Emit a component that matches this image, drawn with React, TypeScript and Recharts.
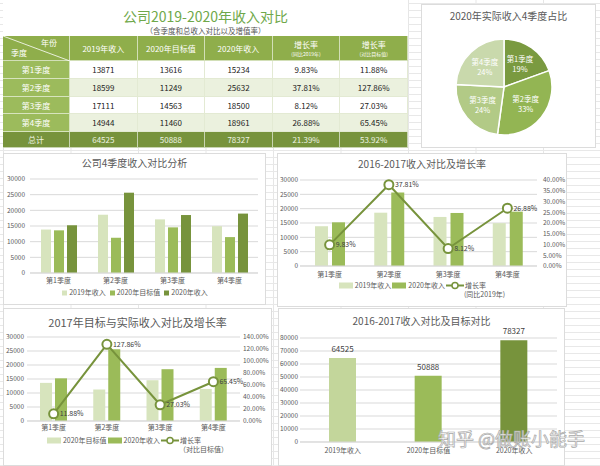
import React from "react"
import {
  BarChart,
  Bar,
  ComposedChart,
  Line,
  XAxis,
  YAxis,
  CartesianGrid,
  Legend,
  LabelList,
  PieChart,
  Pie,
  Cell,
} from "recharts"

const quarters = ["第1季度", "第2季度", "第3季度", "第4季度"]
const revenue2019 = [13871, 18599, 17111, 14944]
const target2020 = [13616, 11249, 14563, 11460]
const revenue2020 = [15234, 25632, 18500, 18961]
const growthYoY = [9.83, 37.81, 8.12, 26.88]
const growthVsTarget = [11.88, 127.86, 27.03, 65.45]

const totalLabels = ["2019年收入", "2020年目标值", "2020年收入"]
const totals = [64525, 50888, 78327]
const totalGrowth = [21.39, 53.92]

const revenueTicks = [0, 5000, 10000, 15000, 20000, 25000, 30000]
const yoyTicks = [0, 5, 10, 15, 20, 25, 30, 35, 40]
const vsTargetTicks = [0, 20, 40, 60, 80, 100, 120, 140]
const totalTicks = [0, 10000, 20000, 30000, 40000, 50000, 60000, 70000, 80000]

const FONT = '"Noto Sans CJK SC", "Noto Sans", sans-serif'
const LIGHT = "#D7E4BD"
const MID = "#9BBB59"
const DARK = "#77933C"
const AXIS_TEXT = "#595959"
const GRID = "#d9d9d9"
const pieColors = ["#7A9A40", "#93B553", "#B2CA86", "#C9D9AC"]
const totalColors = ["#C3D69B", MID, DARK]

const quarterRows = quarters.map((q, i) => ({
  quarter: q,
  r2019: revenue2019[i],
  t2020: target2020[i],
  r2020: revenue2020[i],
  yoy: growthYoY[i],
  vsTarget: growthVsTarget[i],
}))

const totalRows = totalLabels.map((name, i) => ({ name, value: totals[i] }))
const pieRows = quarters.map((q, i) => ({ name: q, value: revenue2020[i] }))

const pct = (v: any) => Number(v).toFixed(2) + "%"

type LegendItem = { label: string; sub?: string; color: string; kind: "square" | "rect" | "line" }

function LegendRow({ items, gap = 6 }: { items: LegendItem[]; gap?: number }) {
  return (
    <div
      style={{
        display: "flex",
        justifyContent: "center",
        alignItems: "flex-start",
        gap,
        fontSize: 7,
        lineHeight: "9px",
        color: AXIS_TEXT,
        fontFamily: FONT,
      }}
    >
      {items.map((it) => (
        <div key={it.label} style={{ display: "flex", alignItems: "flex-start" }}>
          {it.kind === "square" && (
            <svg width={8} height={9}>
              <rect x={1} y={2.5} width={5} height={5} fill={it.color} />
            </svg>
          )}
          {it.kind === "rect" && (
            <svg width={16} height={9}>
              <rect x={0} y={1.5} width={14} height={6} fill={it.color} />
            </svg>
          )}
          {it.kind === "line" && (
            <svg width={19} height={9}>
              <line x1={0} y1={4.5} x2={18} y2={4.5} stroke={it.color} strokeWidth={2} />
              <circle cx={9} cy={4.5} r={3} fill="#fff" stroke={it.color} strokeWidth={1.5} />
            </svg>
          )}
          <div>
            <div>{it.label}</div>
            {it.sub && <div style={{ marginLeft: -1 }}>{it.sub}</div>}
          </div>
        </div>
      ))}
    </div>
  )
}

function Panel({
  x, y, w, h, title, titleTop, titleSize = 10, children,
}: {
  x: number; y: number; w: number; h: number; title: string; titleTop: number; titleSize?: number
  children: React.ReactNode
}) {
  return (
    <div
      style={{
        position: "absolute",
        left: x,
        top: y,
        width: w,
        height: h,
        background: "#fff",
        outline: "1px solid #dcdcdc",
        outlineOffset: -1,
      }}
    >
      <div
        style={{
          position: "absolute",
          left: 0,
          top: titleTop,
          width: w,
          textAlign: "center",
          fontSize: titleSize,
          lineHeight: "14px",
          color: AXIS_TEXT,
          fontFamily: FONT,
        }}
      >
        {title}
      </div>
      <div style={{ position: "absolute", left: 0, top: 0 }}>{children}</div>
    </div>
  )
}

function SummaryTable() {
  const widths = [67, 67.6, 67.6, 67.6, 67.6, 67.6]
  const heights = [18, 18, 17, 18]
  const headGreen = "#8FAE4B"
  const sideGreen = "#9CBB5C"
  const cell = (w: number, h: number, bg: string, color: string, content: React.ReactNode, key: string) => (
    <div
      key={key}
      style={{
        width: w,
        height: h,
        background: bg,
        color,
        display: "flex",
        flexDirection: "column",
        alignItems: "center",
        justifyContent: "center",
        boxSizing: "border-box",
        borderRight: "1px solid rgba(255,255,255,0.6)",
        borderBottom: "1px solid rgba(255,255,255,0.6)",
      }}
    >
      {content}
    </div>
  )
  const rows = quarters.map((q, i) => [
    q,
    String(revenue2019[i]),
    String(target2020[i]),
    String(revenue2020[i]),
    pct(growthYoY[i]),
    pct(growthVsTarget[i]),
  ])
  return (
    <div style={{ position: "absolute", left: 3, top: 0, width: 405, fontFamily: FONT }}>
      <div style={{ height: 36, position: "relative", background: "#fff" }}>
        <div
          style={{
            position: "absolute", top: 8, width: "100%", textAlign: "center",
            fontSize: 14, lineHeight: "16px", color: "#6FA84A",
          }}
        >
          公司2019-2020年收入对比
        </div>
        <div
          style={{
            position: "absolute", top: 26, width: "100%", textAlign: "center",
            fontSize: 7.5, lineHeight: "9px", color: "#555",
          }}
        >
          （含季度和总收入对比以及增值率）
        </div>
      </div>
      <div style={{ display: "flex", fontSize: 8 }}>
        <div style={{ width: widths[0], height: 25, background: headGreen, position: "relative", color: "#fff", boxSizing: "border-box", borderRight: "1px solid rgba(255,255,255,0.6)", borderBottom: "1px solid rgba(255,255,255,0.6)" }}>
          <svg width={67} height={25} style={{ position: "absolute", left: 0, top: 0 }}>
            <line x1={0} y1={0} x2={67} y2={25} stroke="#fff" strokeWidth={0.8} />
          </svg>
          <div style={{ position: "absolute", right: 12, top: 1 }}>年份</div>
          <div style={{ position: "absolute", left: 8, bottom: 2 }}>季度</div>
        </div>
        {cell(widths[1], 25, headGreen, "#fff", "2019年收入", "h1")}
        {cell(widths[2], 25, headGreen, "#fff", "2020年目标值", "h2")}
        {cell(widths[3], 25, headGreen, "#fff", "2020年收入", "h3")}
        {cell(widths[4], 25, headGreen, "#fff", (
          <>
            <div style={{ lineHeight: "10px" }}>增长率</div>
            <div style={{ fontSize: 5, lineHeight: "7px" }}>(同比2019年)</div>
          </>
        ), "h4")}
        {cell(widths[5], 25, headGreen, "#fff", (
          <>
            <div style={{ lineHeight: "10px" }}>增长率</div>
            <div style={{ fontSize: 5, lineHeight: "7px" }}>(对比目标值)</div>
          </>
        ), "h5")}
      </div>
      {rows.map((r, ri) => (
        <div key={ri} style={{ display: "flex", fontSize: 8 }}>
          {r.map((v, ci) =>
            ci === 0
              ? cell(widths[ci], heights[ri], sideGreen, "#fff", v, `c${ri}-${ci}`)
              : (
                <div
                  key={`c${ri}-${ci}`}
                  style={{
                    width: widths[ci],
                    height: heights[ri],
                    background: ri % 2 === 1 ? "#EBF1DE" : "#fff",
                    color: "#222",
                    display: "flex",
                    alignItems: "center",
                    justifyContent: "center",
                    boxSizing: "border-box",
                    borderRight: "1px solid #e3ead3",
                    borderBottom: "1px solid #e3ead3",
                  }}
                >
                  {v}
                </div>
              )
          )}
        </div>
      ))}
      <div style={{ display: "flex", fontSize: 8 }}>
        {["总计", ...totals.map(String), ...totalGrowth.map(pct)].map((v, ci) =>
          cell(widths[ci], 16, "#77933C", "#EEF3E2", v, `t${ci}`)
        )}
      </div>
    </div>
  )
}

const RAD = Math.PI / 180

function pieLabel(props: any) {
  const { cx, cy, midAngle, outerRadius, percent, name } = props
  const r = outerRadius * 0.58
  const x = cx + r * Math.cos(-midAngle * RAD)
  const y = cy + r * Math.sin(-midAngle * RAD)
  return (
    <text x={x} y={y} textAnchor="middle" fill="#fff" fontSize={7.5} fontFamily={FONT}>
      <tspan x={x} dy={-2}>{name}</tspan>
      <tspan x={x} dy={10}>{Math.round(percent * 100)}%</tspan>
    </text>
  )
}

const tickStyle = { fontSize: 6.5, fill: AXIS_TEXT, fontFamily: FONT }
const catTick = { fontSize: 7, fill: AXIS_TEXT, fontFamily: FONT }
const lineLabel = { fontSize: 7, fill: "#404040", fontFamily: FONT }

export default function App() {
  return (
    <div
      style={{
        position: "absolute",
        left: 0,
        top: 0,
        width: 600,
        height: 466,
        overflow: "hidden",
        background: "#fff",
        backgroundImage:
          "linear-gradient(#e8e8e8 1px, transparent 1px), linear-gradient(90deg, #e6e6e6 1px, transparent 1px)",
        backgroundSize: "100% 7px, 67.5px 100%",
        backgroundPosition: "0 3px, 3px 0",
        fontFamily: FONT,
      }}
    >
      <SummaryTable />

      <Panel x={421} y={4} w={175} h={144} title="2020年实际收入4季度占比" titleTop={5}>
        <PieChart width={175} height={144} margin={{ top: 0, right: 0, bottom: 0, left: 0 }}>
          <Pie
            data={pieRows}
            dataKey="value"
            nameKey="name"
            cx={83}
            cy={83}
            outerRadius={48}
            startAngle={90}
            endAngle={-270}
            stroke="#fff"
            strokeWidth={1.5}
            label={pieLabel}
            labelLine={false}
            isAnimationActive={false}
          >
            {pieRows.map((p, i) => (
              <Cell key={p.name} fill={pieColors[i]} />
            ))}
          </Pie>
        </PieChart>
      </Panel>

      <Panel x={3} y={153} w={263} h={152} title="公司4季度收入对比分析" titleTop={3}>
        <BarChart
          width={263}
          height={152}
          data={quarterRows}
          margin={{ top: 26, right: 8, left: 0, bottom: 1 }}
          barSize={10}
          barGap={3}
        >
          <CartesianGrid vertical={false} stroke={GRID} />
          <XAxis dataKey="quarter" interval={0} tickLine={false} tickSize={0} tickMargin={5} height={15} axisLine={{ stroke: GRID }} tick={catTick} />
          <YAxis width={27} interval={0} domain={[0, 30000]} ticks={revenueTicks} tickLine={false} tickSize={0} tickMargin={5} axisLine={false} tick={tickStyle} />
          <Legend
            verticalAlign="bottom"
            wrapperStyle={{ height: 16, left: 0, width: 263 }}
            content={() => (
              <LegendRow
                gap={3}
                items={[
                  { label: "2019年收入", color: LIGHT, kind: "square" },
                  { label: "2020年目标值", color: MID, kind: "square" },
                  { label: "2020年收入", color: DARK, kind: "square" },
                ]}
              />
            )}
          />
          <Bar dataKey="r2019" fill={LIGHT} isAnimationActive={false} />
          <Bar dataKey="t2020" fill={MID} isAnimationActive={false} />
          <Bar dataKey="r2020" fill={DARK} isAnimationActive={false} />
        </BarChart>
      </Panel>

      <Panel x={277} y={153} w={290} h={154} title="2016-2017收入对比及增长率" titleTop={4}>
        <ComposedChart
          width={290}
          height={154}
          data={quarterRows}
          margin={{ top: 27, right: 0, left: 0, bottom: 4 }}
          barSize={13}
          barGap={4}
        >
          <CartesianGrid vertical={false} stroke={GRID} yAxisId="left" />
          <XAxis dataKey="quarter" interval={0} tickLine={false} tickSize={0} tickMargin={6} height={15} axisLine={{ stroke: GRID }} tick={catTick} />
          <YAxis yAxisId="left" interval={0} width={23} domain={[0, 30000]} ticks={revenueTicks} tickLine={false} tickSize={0} tickMargin={2} axisLine={false} tick={tickStyle} />
          <YAxis yAxisId="right" interval={0} orientation="right" width={30} domain={[0, 40]} ticks={yoyTicks} tickFormatter={pct} tickLine={false} tickSize={0} tickMargin={6} axisLine={false} tick={tickStyle} />
          <Legend
            verticalAlign="bottom"
            wrapperStyle={{ height: 22, left: 0, width: 290 }}
            content={() => (
              <LegendRow
                gap={1}
                items={[
                  { label: "2019年收入", color: LIGHT, kind: "rect" },
                  { label: "2020年收入", color: MID, kind: "rect" },
                  { label: "增长率", sub: "(同比2019年)", color: DARK, kind: "line" },
                ]}
              />
            )}
          />
          <Bar yAxisId="left" dataKey="r2019" fill={LIGHT} isAnimationActive={false} />
          <Bar yAxisId="left" dataKey="r2020" fill={MID} isAnimationActive={false} />
          <Line
            yAxisId="right"
            dataKey="yoy"
            stroke={DARK}
            strokeWidth={2}
            dot={{ r: 4.5, fill: "#fff", stroke: DARK, strokeWidth: 2 }}
            isAnimationActive={false}
          >
            <LabelList dataKey="yoy" position="right" offset={6} formatter={pct} style={lineLabel} />
          </Line>
        </ComposedChart>
      </Panel>

      <Panel x={3} y={308} w={269} h={158} title="2017年目标与实际收入对比及增长率" titleTop={7} titleSize={11}>
        <ComposedChart
          width={269}
          height={158}
          data={quarterRows}
          margin={{ top: 29, right: 0, left: 0, bottom: 8 }}
          barSize={12}
          barGap={3}
        >
          <CartesianGrid vertical={false} stroke={GRID} yAxisId="left" />
          <XAxis dataKey="quarter" interval={0} tickLine={false} tickSize={0} tickMargin={4} height={15} axisLine={{ stroke: GRID }} tick={catTick} />
          <YAxis yAxisId="left" interval={0} width={24} domain={[0, 30000]} ticks={revenueTicks} tickLine={false} tickSize={0} tickMargin={3} axisLine={false} tick={tickStyle} />
          <YAxis yAxisId="right" interval={0} orientation="right" width={32} domain={[0, 140]} ticks={vsTargetTicks} tickFormatter={pct} tickLine={false} tickSize={0} tickMargin={3} axisLine={false} tick={tickStyle} />
          <Legend
            verticalAlign="bottom"
            wrapperStyle={{ height: 22, left: 0, width: 269 }}
            content={() => (
              <LegendRow
                gap={1}
                items={[
                  { label: "2020年目标值", color: LIGHT, kind: "rect" },
                  { label: "2020年收入", color: MID, kind: "rect" },
                  { label: "增长率", sub: "（对比目标值）", color: DARK, kind: "line" },
                ]}
              />
            )}
          />
          <Bar yAxisId="left" dataKey="t2020" fill={LIGHT} isAnimationActive={false} />
          <Bar yAxisId="left" dataKey="r2020" fill={MID} isAnimationActive={false} />
          <Line
            yAxisId="right"
            dataKey="vsTarget"
            stroke={DARK}
            strokeWidth={2}
            dot={{ r: 4.5, fill: "#fff", stroke: DARK, strokeWidth: 2 }}
            isAnimationActive={false}
          >
            <LabelList dataKey="vsTarget" position="right" offset={6} formatter={pct} style={lineLabel} />
          </Line>
        </ComposedChart>
      </Panel>

      <Panel x={278} y={308} w={287} h={158} title="2016-2017收入对比及目标对比" titleTop={6}>
        <BarChart
          width={287}
          height={158}
          data={totalRows}
          margin={{ top: 30, right: 8, left: 0, bottom: 8 }}
          barSize={27}
        >
          <CartesianGrid vertical={false} stroke={GRID} />
          <XAxis dataKey="name" interval={0} tickLine={false} tickSize={0} tickMargin={6} height={16} axisLine={{ stroke: GRID }} tick={catTick} />
          <YAxis width={22} interval={0} domain={[0, 80000]} ticks={totalTicks} tickLine={false} tickSize={0} tickMargin={2} axisLine={false} tick={tickStyle} />
          <Bar dataKey="value" isAnimationActive={false}>
            {totalRows.map((r, i) => (
              <Cell key={r.name} fill={totalColors[i]} />
            ))}
            <LabelList dataKey="value" position="top" offset={6} style={{ fontSize: 8, fill: "#404040", fontFamily: FONT }} />
          </Bar>
        </BarChart>
      </Panel>

      <div
        style={{
          position: "absolute",
          left: 438,
          top: 427,
          fontSize: 18,
          lineHeight: "22px",
          color: "rgba(255,255,255,0.85)",
          WebkitTextStroke: "0.7px #a8a8a8",
          fontFamily: FONT,
          whiteSpace: "nowrap",
        }}
      >
        知乎 @做账小能手
      </div>
    </div>
  )
}
